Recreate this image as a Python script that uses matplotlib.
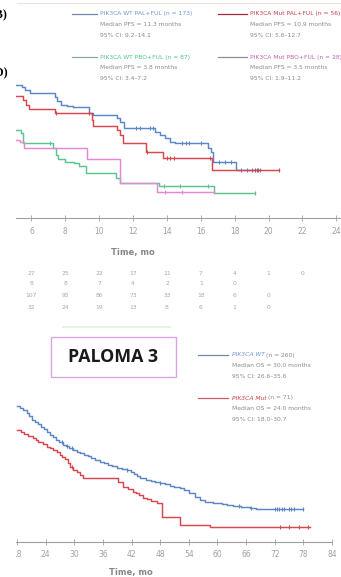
"""
Curvas de Kaplan-Meier (PFS y OS) por estado de PIK3CA, PALOMA 3.
"""

import numpy as np
import matplotlib
matplotlib.use("Agg")
import matplotlib.pyplot as plt
from matplotlib.lines import Line2D
from matplotlib.patches import Rectangle

# ---- datos PFS (meses, supervivencia) ----
wt_pal_t = [5.0, 5.42, 5.62, 5.91, 7.38, 7.52, 7.77, 8.08, 8.47, 9.42, 9.66, 11.03,
            11.23, 11.46, 13.3, 13.6, 13.9, 14.2, 14.5, 16.45, 16.6, 16.74, 18.1, 19.5]
wt_pal_s = [0.715, 0.704, 0.69, 0.675, 0.654, 0.632, 0.609, 0.604, 0.597, 0.568, 0.555, 0.537,
            0.52, 0.484, 0.466, 0.448, 0.43, 0.412, 0.403, 0.376, 0.358, 0.304, 0.26, 0.26]
wt_pal_cens = [12.2, 12.4, 13.0, 13.2, 14.9, 15.1, 15.3, 16.0, 17.1, 17.4, 17.8,
               18.4, 18.7, 19.0, 19.3, 19.5]

mut_pal_t = [5.0, 5.52, 5.67, 5.87, 7.39, 9.56, 9.66, 11.03, 11.23, 11.43, 12.75, 13.79, 16.65, 20.6]
mut_pal_s = [0.66, 0.636, 0.609, 0.588, 0.564, 0.528, 0.498, 0.475, 0.448, 0.403, 0.358, 0.322, 0.26, 0.26]
mut_pal_cens = [7.45, 9.4, 12.8, 14.0, 14.2, 14.4, 16.55, 19.2, 19.4, 20.6]

wt_pbo_t = [5.0, 5.36, 5.52, 7.29, 7.45, 7.59, 8.0, 8.5, 8.8, 9.2, 11.0, 11.2, 13.55, 16.75, 19.2]
wt_pbo_s = [0.475, 0.457, 0.403, 0.376, 0.34, 0.317, 0.304, 0.296, 0.281, 0.242, 0.215, 0.188,
            0.172, 0.134, 0.134]
wt_pbo_cens = [7.1, 13.8, 14.8, 16.4, 19.2]

mut_pbo_t = [5.0, 5.3, 5.55, 9.3, 11.2, 13.4, 16.8]
mut_pbo_s = [0.421, 0.41, 0.376, 0.32, 0.188, 0.143, 0.143]
mut_pbo_cens = [13.9, 14.9, 16.8]

# ---- número en riesgo ----
risk_months = [6, 8, 10, 12, 14, 16, 18, 20, 22]
risk_row1 = ["27", "25", "22", "17", "11", "7", "4", "1", "0"]
risk_row2 = ["8", "8", "7", "4", "2", "1", "0"]
risk_row3 = ["107", "95", "86", "73", "33", "18", "6", "0"]
risk_row4 = ["32", "24", "19", "13", "8", "6", "1", "0"]

# ---- datos OS ----
os_wt_t = [18, 18.6, 19.3, 20, 20.6, 21.1, 21.7, 22.4, 23, 23.6, 24.2, 24.9, 25.5, 26.2,
           26.9, 27.6, 28.3, 29, 29.8, 30.5, 31.3, 32, 32.8, 33.5, 34.4, 35.4, 36.2, 37,
           38, 39, 40, 41, 41.8, 42.5, 43.2, 43.8, 45, 46, 47, 48, 49, 50, 51, 52.2, 53,
           54, 55.2, 56.4, 57.5, 59.1, 61, 62, 63.3, 65, 66.8, 68, 78]
os_wt_s = [0.723, 0.712, 0.70, 0.688, 0.672, 0.65, 0.64, 0.628, 0.612, 0.60, 0.585, 0.57,
           0.558, 0.545, 0.532, 0.516, 0.508, 0.5, 0.49, 0.48, 0.472, 0.465, 0.455, 0.445,
           0.437, 0.427, 0.418, 0.41, 0.402, 0.395, 0.39, 0.383, 0.372, 0.36, 0.35, 0.34,
           0.332, 0.325, 0.32, 0.314, 0.307, 0.30, 0.294, 0.287, 0.275, 0.26, 0.24, 0.223,
           0.215, 0.207, 0.2, 0.196, 0.19, 0.185, 0.18, 0.175, 0.175]
os_wt_cens = [27.5, 28.5, 29.5, 41.0, 48.0, 64.5, 67.0, 72.0, 72.5, 73.0, 73.5, 74.0,
              75.0, 75.5, 76.0, 78.0]

os_mut_t = [18, 18.8, 19.5, 20.4, 21.4, 22, 22.5, 23.4, 24.3, 25, 25.5, 26.3, 27, 27.5,
            28, 28.6, 29.1, 29.8, 30.5, 31.2, 31.9, 39.2, 40.3, 41.3, 42.3, 43, 43.5, 44.4,
            45.2, 46, 47.3, 48.4, 52.2, 58.5, 79.4]
os_mut_s = [0.596, 0.587, 0.575, 0.565, 0.553, 0.54, 0.53, 0.52, 0.507, 0.498, 0.49, 0.478,
            0.463, 0.452, 0.44, 0.42, 0.40, 0.385, 0.37, 0.355, 0.34, 0.318, 0.294, 0.28,
            0.268, 0.258, 0.25, 0.234, 0.227, 0.22, 0.207, 0.134, 0.09, 0.078, 0.078]
os_mut_cens = [29.5, 73.1, 75.0, 77.1, 79.0]

BLUE = "#5b87c5"
RED = "#d8474f"
GREEN = "#5cc58e"
PINK = "#e08ad0"
TXT_GRAY = "#8a8a8a"

W, H = 341, 577


def fx(px):
    return px / W


def fy(py):
    return 1 - py / H


def km(ax, t, s, cens, color):
    """Dibuja una curva escalonada con marcas de censura."""
    t = np.asarray(t)
    s = np.asarray(s)
    ax.step(t, s, where="post", color=color, lw=1.05)
    c = np.asarray(cens)
    idx = np.searchsorted(t, c, side="right") - 1
    ax.plot(c, s[idx], ls="none", marker="|", ms=3, mew=0.8, color=color)


def style_axis(ax, ticks):
    for side in ["left", "top", "right"]:
        ax.spines[side].set_visible(False)
    ax.spines["bottom"].set_color("#a0a0a0")
    ax.spines["bottom"].set_linewidth(0.8)
    ax.set_yticks([])
    ax.set_xticks(ticks)
    ax.tick_params(axis="x", direction="inout", length=4, width=0.6, color="#a0a0a0",
                   labelsize=5.5, labelcolor="#a0a0a0", pad=4)
    ax.set_ylim(0, 1)
    ax.patch.set_alpha(0)


def legend_line(px0, px1, py, color):
    fig.add_artist(Line2D([fx(px0), fx(px1)], [fy(py), fy(py)], transform=fig.transFigure,
                          color=color, lw=0.9))


def legend_text(px, py, lines, color):
    for i, txt in enumerate(lines):
        fig.text(fx(px), fy(py + i * 10.7), txt, fontsize=4.3,
                 color=color if i == 0 else TXT_GRAY, va="center", ha="left")


def legend_split(px, py, gene, rest, color):
    """Nombre del gen en color y el resto en gris, en la misma línea."""
    t = fig.text(fx(px), fy(py), gene, fontsize=4.3, color=color, style="italic",
                 va="center", ha="left")
    bb = t.get_window_extent(renderer=fig.canvas.get_renderer())
    fig.text(bb.x1 / fig.bbox.width + fx(1.5), fy(py), rest, fontsize=4.3, color=TXT_GRAY,
             va="center", ha="left")


fig = plt.figure(figsize=(3.41, 5.77), dpi=100)

# ---- panel superior (PFS) ----
ax1 = fig.add_axes([fx(16), fy(218.3), fx(341) - fx(16), 186 / H])
ax1.set_xlim(5.085, 24.28)
style_axis(ax1, list(range(6, 25, 2)))
km(ax1, wt_pal_t, wt_pal_s, wt_pal_cens, BLUE)
km(ax1, mut_pal_t, mut_pal_s, mut_pal_cens, RED)
km(ax1, wt_pbo_t, wt_pbo_s, wt_pbo_cens, GREEN)
km(ax1, mut_pbo_t, mut_pbo_s, mut_pbo_cens, PINK)
fig.text(fx(133), fy(252), "Time, mo", fontsize=6, color="#888888", weight="bold",
         ha="center", va="center")

rows = [risk_row1, risk_row2, risk_row3, risk_row4]
row_py = [273, 283.5, 295, 307]
for row, py in zip(rows, row_py):
    for m, val in zip(risk_months, row):
        ax1.text(m, (218.3 - py) / 186, val, transform=ax1.get_xaxis_transform(),
                 fontsize=4.3, color="#a8a8a8", ha="center", va="center", clip_on=False)

legend_line(72, 97, 14, "#7088a8")
legend_text(100, 14, ["PIK3CA WT PAL+FUL (n = 173)", "Median PFS = 11.3 months",
                      "95% CI: 9.2\u201314.1"], "#7397cf")
legend_line(72, 97, 57, "#88a8a8")
legend_text(100, 57, ["PIK3CA WT PBO+FUL (n = 87)", "Median PFS = 3.8 months",
                      "95% CI: 3.4\u20137.2"], "#4cc58a")
legend_line(218, 247, 14, "#a02838")
legend_text(250, 14, ["PIK3CA Mut PAL+FUL (n = 56)", "Median PFS = 10.9 months",
                      "95% CI: 5.6\u201312.7"], "#c8404c")
legend_line(218, 247, 57, "#988898")
legend_text(250, 57, ["PIK3CA Mut PBO+FUL (n = 28)", "Median PFS = 3.5 months",
                      "95% CI: 1.9\u201311.2"], "#c060b8")

# ---- panel inferior (OS) ----
ax2 = fig.add_axes([fx(16), fy(542), fx(341) - fx(16), 188 / H])
ax2.set_xlim(17.79, 85.9)
style_axis(ax2, list(range(18, 85, 6)))
ax2.spines["bottom"].set_bounds(17.79, 84)
km(ax2, os_wt_t, os_wt_s, os_wt_cens, BLUE)
km(ax2, os_mut_t, os_mut_s, os_mut_cens, RED)
fig.text(fx(131), fy(572), "Time, mo", fontsize=6, color="#888888", weight="bold",
         ha="center", va="center")

legend_line(198, 228, 355, "#7088a8")
legend_split(232, 355, "PIK3CA WT", "(n = 260)", "#7397cf")
legend_text(232, 355, ["", "Median OS = 30.0 months", "95% CI: 26.6\u201335.6"], "#7397cf")
legend_line(198, 228, 398, "#d05a66")
legend_split(232, 398, "PIK3CA Mut", "(n = 71)", "#c8404c")
legend_text(232, 398, ["", "Median OS = 24.0 months", "95% CI: 18.0\u201330.7"], "#c8404c")

# caja PALOMA 3
fig.add_artist(Rectangle((fx(51), fy(377)), 125 / W, 40 / H, transform=fig.transFigure,
                         facecolor="white", edgecolor="#d9a6e3", lw=1.0))
fig.text(fx(112.5), fy(357), "PALOMA 3", fontsize=12.8, weight="bold", family="Open Sans",
         color="#1a1a1a", ha="center", va="center")

# líneas tenues del recorte
fig.add_artist(Line2D([fx(17), fx(341)], [fy(2.5), fy(2.5)], transform=fig.transFigure,
                      color="#f4dede", lw=0.8))
fig.add_artist(Line2D([fx(63), fx(170)], [fy(327), fy(327)], transform=fig.transFigure,
                      color="#e4f4e0", lw=1.5))

# borde izquierdo recortado
fig.add_artist(Rectangle((0, 0), fx(15.5), 1, transform=fig.transFigure,
                         facecolor="white", edgecolor="none", zorder=10))
fig.text(fx(7), fy(15), "(B)", fontsize=8.5, family="Liberation Serif", weight="bold",
         ha="right", va="center", zorder=11)
fig.text(fx(8.5), fy(73), "(D)", fontsize=8.5, family="Liberation Serif", weight="bold",
         ha="right", va="center", zorder=11)

fig.savefig("out.png", dpi=100, facecolor="white")
plt.close(fig)
